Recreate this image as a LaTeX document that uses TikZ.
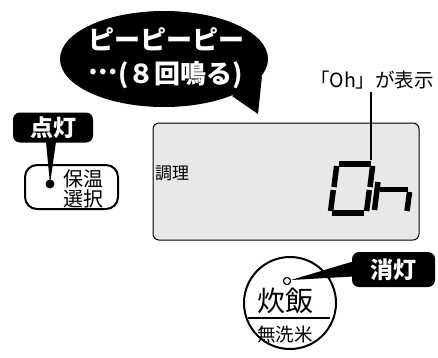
\documentclass[tikz,border=0pt]{standalone}
\usepackage{fontspec}
\newfontfamily\jp{Noto Sans CJK JP}
\usetikzlibrary{calc}
\begin{document}
\begin{tikzpicture}[x=1pt,y=-1pt,
  labelbox/.style={fill=black,text=white,rounded corners=7,inner sep=0,
    minimum width=80,minimum height=30,font=\jp\bfseries\fontsize{23}{25}\selectfont},
  seg/.style={line width=5.5,line cap=butt},
  txt/.style={inner sep=0,align=center}]
\useasboundingbox (0,0) rectangle (438,357);
% speech bubble
\fill (164,59) ellipse [x radius=104, y radius=48];
\coordinate (tip) at (258,114);
\fill (232,96) -- (tip) -- (262,76) -- cycle;
\node[txt,text=white,font=\jp\bfseries\fontsize{26}{34}\selectfont] (beep) at (166,58) {ピーピーピー\\\raisebox{0.32em}{…}(８回鳴る)};
% LCD panel
\node[draw,line width=1,fill=black!9,rounded corners=6,minimum width=266,minimum height=117,inner sep=0] (lcd) at (286,181.5) {};
\node[txt,font=\jp\fontsize{17}{19}\selectfont,anchor=west] (chouri) at (155,173) {調理};
% Oh label
\node[txt,font=\jp\fontsize{19.5}{21}\selectfont] (ohlabel) at (372,80) {「Oh」が表示};
\coordinate (ohtop) at (371,160);
\draw[line width=1.6] ($(ohlabel.south)+(-1,3)$) -- (ohtop);
% seven segment O
\draw[seg] (339,164) -- (371,164);
\draw[seg] (372.6,166) -- (370,187);
\draw[seg] (369.3,190) -- (366.6,211);
\draw[seg] (332,213) -- (364,213);
\draw[seg] (333.3,190) -- (330.6,211);
\draw[seg] (336.6,166) -- (334,187);
% h
\draw[seg] (378,182) -- (374.5,210);
\draw[seg] (380,189.5) -- (408,189.5);
\draw[seg] (409.5,192) -- (407,211);
% 点灯 label and 保温選択 button
\node[labelbox] (tento) at (53,127.5) {点灯};
\node[draw,line width=2,rounded corners=12,minimum width=93,minimum height=44,inner sep=0] (hoon) at (71.5,187) {};
\node[txt,font=\jp\fontsize{20}{19.5}\selectfont] (hoontext) at (83,189) {保温\\選択};
\node[circle,fill,inner sep=0,minimum size=9] (dot) at (50,184) {};
\fill ($(tento.south)+(-7,-1)$) -- ($(tento.south)+(3,-1)$) -- (dot.center) -- cycle;
% 炊飯 button
\node[draw,circle,line width=2,minimum size=92,inner sep=0] (suihan) at (290,303) {};
\node[txt,font=\jp\fontsize{28}{30}\selectfont] (suihantext) at (285,301) {炊飯};
\coordinate (lineL) at (248,318);
\coordinate (lineR) at (330,318);
\draw[line width=1.2] (lineL) -- (lineR);
\node[txt,font=\jp\fontsize{18.5}{20}\selectfont] (musenmai) at (285,334) {無洗米};
% 消灯 label
\node[labelbox,minimum width=83,minimum height=35] (shoto) at (393.5,269.5) {消灯};
\node[circle,draw,fill=white,line width=1,inner sep=0,minimum size=7] (ring) at (287,281) {};
\fill ($(ring.center)+(4,-1)$) -- ($(shoto.west)+(1,-8)$) -- ($(shoto.west)+(1,7)$) -- cycle;
\node[circle,draw,fill=white,line width=1,inner sep=0,minimum size=7] at (ring.center) {};
\end{tikzpicture}
\end{document}
